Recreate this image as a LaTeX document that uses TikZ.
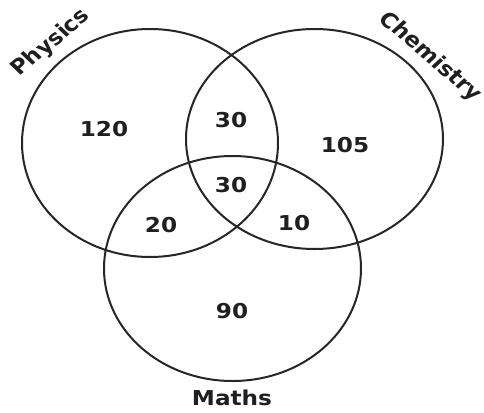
\documentclass[tikz,border=0pt]{standalone}
\usepackage{fontspec}
\newfontfamily\vennfont{DejaVu Sans}
\begin{document}
\begin{tikzpicture}[x=1pt,y=-1pt,line width=2pt,
  every node/.style={font=\vennfont\bfseries\fontsize{20.5}{20.5}\selectfont,
    text=black!88,xscale=1.13}]
  \useasboundingbox (0,0) rectangle (484,412);
  % the three sets
  \draw[black!85] (150,143) ellipse [x radius=128pt, y radius=114pt];
  \draw[black!85] (314.5,139) ellipse [x radius=128.5pt, y radius=110pt];
  \draw[black!85] (232.5,268.5) ellipse [x radius=128.5pt, y radius=112.5pt];
  % set names
  \node[rotate=43] (phy) at (51,43) {Physics};
  \node[rotate=-44] (chem) at (430,57) {Chemistry};
  \node (maths) at (232,398) {Maths};
  % counts
  \node (onlyp) at (104,129) {120};
  \node (pc) at (231,120) {30};
  \node (onlyc) at (345,145) {105};
  \node (pcm) at (231,185) {30};
  \node (pm) at (161,225) {20};
  \node (cm) at (294,223) {10};
  \node (onlym) at (232,311) {90};
\end{tikzpicture}
\end{document}
